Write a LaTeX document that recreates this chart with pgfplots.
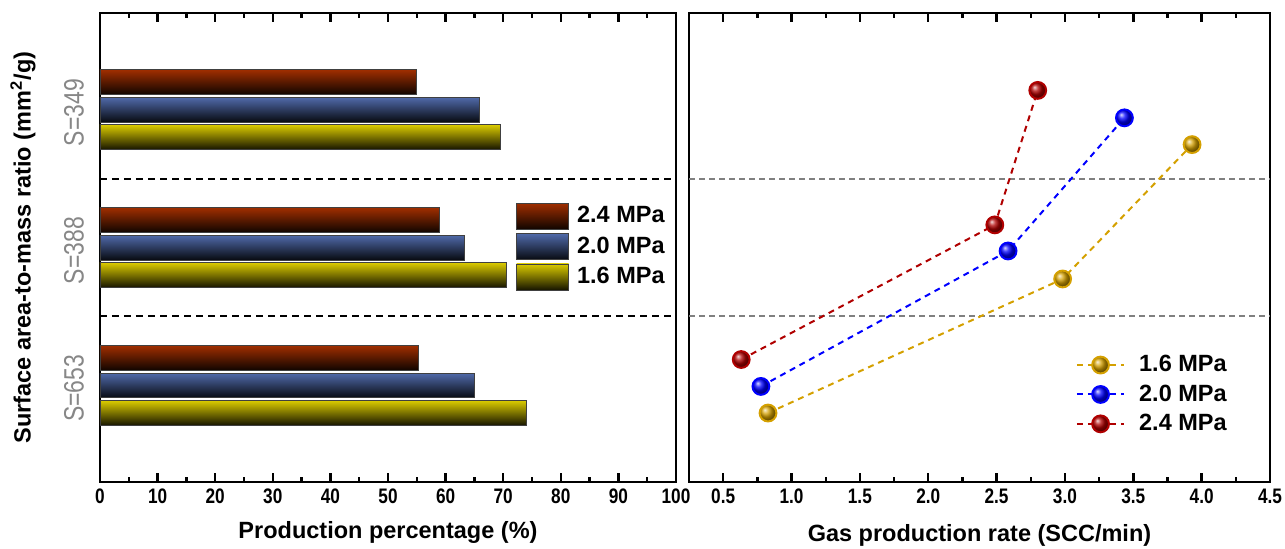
\documentclass[border=0pt]{standalone}
\usepackage{pgfplots}
\usepackage{pgfplotstable}
\pgfplotsset{compat=1.18}
\usepackage{fontspec}
\setmainfont{Liberation Sans}
\newfontfamily\narrowfont[FakeStretch=0.82]{Liberation Sans}

\definecolor{barred}{RGB}{160,46,0}
\definecolor{barblue}{RGB}{80,106,170}
\definecolor{baryellow}{RGB}{218,202,0}
\definecolor{lgold}{RGB}{212,160,0}
\definecolor{lblue}{RGB}{0,0,255}
\definecolor{lred}{RGB}{176,0,0}
\definecolor{sgray}{RGB}{135,135,135}
\definecolor{dgray}{RGB}{128,128,128}

% gas production rate (SCC/min) against group position
\pgfplotstableread{
x     y
0.828 0.800
2.983 1.772
3.930 2.746
}\rateA
\pgfplotstableread{
x     y
0.776 0.993
2.584 1.975
3.435 2.940
}\rateB
\pgfplotstableread{
x     y
0.632 1.188
2.487 2.164
2.801 3.139
}\rateC

\pgfplotsset{
  panel/.style={
    scale only axis,
    height=234.5pt,
    tick align=inside,
    axis line style={line width=1.4pt},
    major tick length=4.5pt,
    minor tick length=2.3pt,
    every tick/.style={black, line width=1.2pt},
    ticklabel style={font=\narrowfont\bfseries\fontsize{10.5}{12}\selectfont},
    /pgf/number format/assume math mode=true,
    label style={font=\bfseries\fontsize{11.75}{14}\selectfont},
    legend style={font=\bfseries\fontsize{11.75}{14}\selectfont, draw=none, fill=none},
    legend cell align=left,
    ymin=0.3, ymax=3.7,
  },
  shadebar/.style={top color=#1, middle color=#1!70!black, bottom color=#1!10!black,
    draw=black!75, line width=0.4pt},
  % one bar per plot so that every bar gets its own vertical shading
  bar24/.style={shadebar=barred, bar shift=0.2},
  bar20/.style={shadebar=barblue, bar shift=0},
  bar16/.style={shadebar=baryellow, bar shift=-0.2},
}

\begin{document}
\begin{tikzpicture}
\useasboundingbox (0,0) rectangle (642.5pt,-274pt);

% left panel: production percentage bars (1 = S=653, 2 = S=388, 3 = S=349)
\begin{axis}[panel,
  at={(50pt,-241pt)}, anchor=south west,
  width=288pt,
  xbar, bar width=0.18,
  xmin=0, xmax=100,
  xtick={0,10,...,100}, minor x tick num=1,
  ytick={1,2,3}, yticklabels={S=653,S=388,S=349},
  ytick style={draw=none},
  yticklabel style={rotate=90, anchor=south, font=\narrowfont\fontsize{14}{15}\selectfont, text=sgray, xshift=-1.5pt},
  xlabel={Production percentage (\%)},
  xlabel style={at={(axis description cs:0.5,-0.1194)}, anchor=base},
  ylabel={Surface area-to-mass ratio (mm\textsuperscript{2}/g)},
  ylabel style={at={(axis description cs:-0.1337,0.5)}, anchor=center},
  legend style={at={(0.7116,0.6055)}, anchor=north west, row sep=1.5pt,
    /tikz/every odd column/.append style={column sep=2pt}},
  legend image code/.code={\draw[#1] (0pt,-6.5pt) rectangle (26pt,6.5pt);},
]
\addplot[bar24] coordinates {(55.0,3)};
\addlegendentry{2.4 MPa}
\addplot[bar20] coordinates {(65.8,3)};
\addlegendentry{2.0 MPa}
\addplot[bar16] coordinates {(69.5,3)};
\addlegendentry{1.6 MPa}
\addplot[bar24, forget plot] coordinates {(58.9,2)};
\addplot[bar20, forget plot] coordinates {(63.2,2)};
\addplot[bar16, forget plot] coordinates {(70.6,2)};
\addplot[bar24, forget plot] coordinates {(55.2,1)};
\addplot[bar20, forget plot] coordinates {(65.0,1)};
\addplot[bar16, forget plot] coordinates {(74.0,1)};
\addplot[black, line width=1pt, dash pattern=on 3.5pt off 2.5pt, forget plot, sharp plot] coordinates {(0,1.5) (100,1.5)};
\addplot[black, line width=1pt, dash pattern=on 3.5pt off 2.5pt, forget plot, sharp plot] coordinates {(0,2.5) (100,2.5)};
\end{axis}

% right panel: gas production rate
\begin{axis}[panel,
  at={(344.5pt,-241pt)}, anchor=south west,
  width=290.5pt,
  xmin=0.25, xmax=4.5,
  xtick={0.5,1.0,1.5,2.0,2.5,3.0,3.5,4.0,4.5}, minor x tick num=1,
  xticklabel style={/pgf/number format/.cd, fixed, fixed zerofill, precision=1},
  ytick=\empty,
  xlabel={Gas production rate (SCC/min)},
  xlabel style={at={(axis description cs:0.5,-0.1262)}, anchor=base},
  legend style={at={(0.655,0.288)}, anchor=north west, row sep=1pt,
    /tikz/every odd column/.append style={column sep=5pt}},
  legend image code/.code={\draw[mark repeat=2,mark phase=2,#1] plot coordinates {(0pt,0pt) (11.8pt,0pt) (23.6pt,0pt)};},
]
\addplot[dgray, line width=1pt, dash pattern=on 3pt off 2pt, forget plot] coordinates {(0.25,1.5) (4.5,1.5)};
\addplot[dgray, line width=1pt, dash pattern=on 3pt off 2pt, forget plot] coordinates {(0.25,2.5) (4.5,2.5)};
\addplot[lgold, line width=1pt, dash pattern=on 3pt off 2.5pt, mark=ball, mark size=4.2pt,
  mark options={solid, ball color=lgold}] table {\rateA};
\addlegendentry{1.6 MPa}
\addplot[lblue, line width=1pt, dash pattern=on 3pt off 2.5pt, mark=ball, mark size=4.2pt,
  mark options={solid, ball color=lblue}] table {\rateB};
\addlegendentry{2.0 MPa}
\addplot[lred, line width=1pt, dash pattern=on 3pt off 2.5pt, mark=ball, mark size=4.2pt,
  mark options={solid, ball color=lred}] table {\rateC};
\addlegendentry{2.4 MPa}
\end{axis}
\end{tikzpicture}
\end{document}
